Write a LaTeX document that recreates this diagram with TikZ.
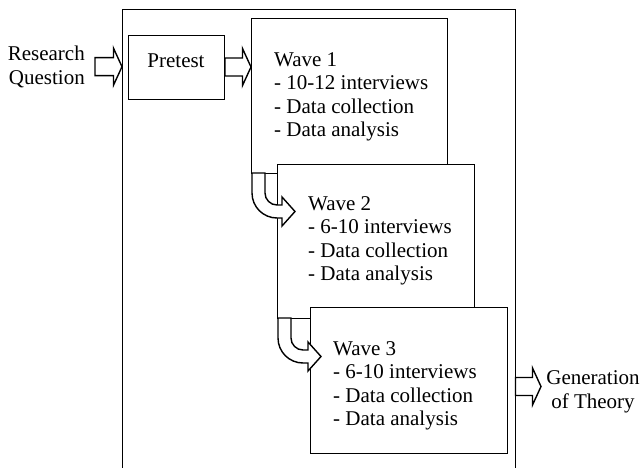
\documentclass[tikz,border=0pt]{standalone}
\usepackage{fontspec}
\setmainfont{Liberation Serif}
\usetikzlibrary{calc}

\tikzset{
  box/.style={draw, fill=white, line width=0.9pt, inner sep=0pt, outer sep=0pt},
  boxtext/.style={anchor=north west, inner sep=0pt, align=left},
  fatarrow/.style={draw, fill=white, line width=1.4pt, line join=miter},
  uturn/.pic={\draw[fatarrow] (0,0) -- (0,20) arc[start angle=180,end angle=90,radius=25] -- (30,45) -- (30,53) -- (43,38.5) -- (30,24) -- (30,32) -- (25,32) arc[start angle=90,end angle=180,radius=12] -- (13,0) -- cycle;}
}
\newcommand{\blockarrow}[2]{%
  \draw[fatarrow] ($(#1)+(0,-9)$) -- ($(#2)+(-8.5,-9)$) -- ($(#2)+(-8.5,-18.5)$) -- (#2) -- ($(#2)+(-8.5,18.5)$) -- ($(#2)+(-8.5,9)$) -- ($(#1)+(0,9)$) -- cycle;}

\begin{document}
\begin{tikzpicture}[x=1pt,y=-1pt,font=\fontsize{21pt}{23.5pt}\selectfont]
\useasboundingbox (0,0) rectangle (642,468);
% outer frame, open at the bottom
\coordinate (frameNW) at (122,9.5);
\coordinate (frameNE) at (515.5,9.5);
\draw[line width=0.9pt] (122,475) -- (frameNW) -- (frameNE) -- (515.5,475);

\node[align=right, anchor=east, inner sep=0pt] (rq) at (85,66.7) {Research\\Question};
\node[align=center, inner sep=0pt] (gen) at (593,392) {Generation\\of Theory};

\node[box, minimum width=96pt, minimum height=64pt] (pretest) at (176,67) {};
\node[anchor=base, inner sep=0pt] (pretesttxt) at (176,67.5) {Pretest};

\node[box, minimum width=196pt, minimum height=155pt] (wave1) at (349,95.5) {};
\node[boxtext] (wave1txt) at ($(wave1.north west)+(23,34)$) {Wave 1\\- 10-12 interviews\\- Data collection\\- Data analysis};

\node[box, minimum width=197pt, minimum height=154pt] (wave2) at (375.5,241) {};
\node[boxtext] (wave2txt) at ($(wave2.north west)+(31,32)$) {Wave 2\\- 6-10 interviews\\- Data collection\\- Data analysis};
\pic at ([xshift=1pt]wave1.south west) {uturn};

\node[box, minimum width=197pt, minimum height=146pt] (wave3) at (408.5,380) {};
\node[boxtext] (wave3txt) at ($(wave3.north west)+(23,34)$) {Wave 3\\- 6-10 interviews\\- Data collection\\- Data analysis};
\pic at ([xshift=1pt]wave2.south west) {uturn};

% block arrows
\coordinate (rqstart) at ([xshift=10pt]rq.east);
\coordinate (rqtip) at (frameNW |- rq.east);
\blockarrow{rqstart}{rqtip}
\coordinate (prestart) at ([xshift=1pt]pretest.east);
\coordinate (pretip) at (wave1.west |- pretest.east);
\blockarrow{prestart}{pretip}
\coordinate (gentip) at (541,386.5);
\coordinate (genstart) at (frameNE |- gentip);
\blockarrow{genstart}{gentip}
\end{tikzpicture}
\end{document}
